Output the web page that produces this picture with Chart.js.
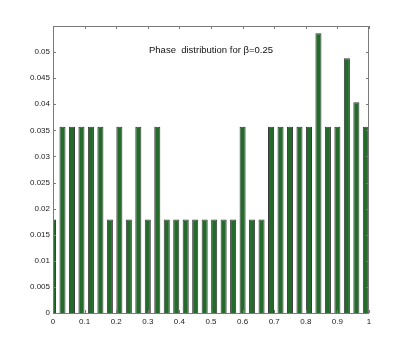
<!DOCTYPE html>
<html>
<head>
<meta charset="utf-8">
<script src="https://cdn.jsdelivr.net/npm/chart.js@4"></script>
<style>
body { margin: 0; background: #fff; }
#wrap { width: 407px; height: 353px; }
</style>
</head>
<body>
<div id="wrap"><canvas id="phase" width="407" height="353"></canvas></div>
<script>
// phase values (x) and probability per phase (y)
var phases = [0, 0.03, 0.06, 0.09, 0.12, 0.15, 0.18, 0.21, 0.24, 0.27, 0.30, 0.33,
	0.36, 0.39, 0.42, 0.45, 0.48, 0.51, 0.54, 0.57, 0.60, 0.63, 0.66, 0.69,
	0.72, 0.75, 0.78, 0.81, 0.84, 0.87, 0.90, 0.93, 0.96, 0.99]
var probs = [0.0179, 0.0357, 0.0357, 0.0357, 0.0357, 0.0357, 0.0179, 0.0357, 0.0179, 0.0357, 0.0179, 0.0357,
	0.0179, 0.0179, 0.0179, 0.0179, 0.0179, 0.0179, 0.0179, 0.0179, 0.0357, 0.0179, 0.0179, 0.0357,
	0.0357, 0.0357, 0.0357, 0.0357, 0.0536, 0.0357, 0.0357, 0.0488, 0.0404, 0.0357]
var xTicks = [0, 0.1, 0.2, 0.3, 0.4, 0.5, 0.6, 0.7, 0.8, 0.9, 1]
var yTicks = [0, 0.005, 0.01, 0.015, 0.02, 0.025, 0.03, 0.035, 0.04, 0.045, 0.05, 0.055]
var title = 'Phase  distribution for \u03b2=0.25'

var points = []
for (var i = 0; i < phases.length; i++)
	points.push({x: phases[i], y: probs[i]})

// matlab style box with inward ticks + title inside the axes
var boxPlugin = {
	id: 'box',
	afterDraw: function(chart)
	{
		var c = chart.ctx, a = chart.chartArea
		var sx = chart.scales.x, sy = chart.scales.y
		c.save()
		c.strokeStyle = '#7a7a7a'
		c.lineWidth = 1
		c.strokeRect(a.left + 0.5, a.top + 0.5, a.right - a.left - 1, a.bottom - a.top)
		c.beginPath()
		xTicks.forEach(function(v)
		{
			var px = Math.round(sx.getPixelForValue(v)) + 0.5
			c.moveTo(px, a.bottom); c.lineTo(px, a.bottom - 3)
			c.moveTo(px, a.top); c.lineTo(px, a.top + 3)
		})
		yTicks.forEach(function(v)
		{
			var py = Math.round(sy.getPixelForValue(v)) + 0.5
			c.moveTo(a.left, py); c.lineTo(a.left + 3, py)
			c.moveTo(a.right, py); c.lineTo(a.right - 3, py)
		})
		c.stroke()
		c.fillStyle = '#111'
		c.font = '9.5px "Liberation Sans", Arial, sans-serif'
		c.textAlign = 'center'
		c.textBaseline = 'middle'
		c.fillText(title, sx.getPixelForValue(0.5), sy.getPixelForValue(0.0504))
		c.restore()
	}
}

var tickFont = {family: '"Liberation Sans", Arial, sans-serif', size: 8}

new Chart(document.getElementById('phase'), {
	type: 'bar',
	data: {
		datasets: [{
			data: points,
			backgroundColor: '#246b2b',
			borderColor: '#3a3a3a',
			borderWidth: 1,
			barPercentage: 0.64,
			categoryPercentage: 1,
			clip: 0
		}]
	},
	options: {
		responsive: false,
		animation: false,
		layout: { padding: {left: 0, top: 26, right: 38, bottom: 0} },
		plugins: {
			legend: { display: false },
			tooltip: { enabled: false }
		},
		scales: {
			x: {
				type: 'linear',
				min: 0,
				max: 1,
				offset: false,
				grid: { display: false, drawTicks: false, offset: false },
				border: { display: false },
				afterBuildTicks: function(s) { s.ticks = xTicks.map(function(v) { return {value: v} }) },
				afterFit: function(s) { s.height = 40 },
				ticks: {
					font: tickFont,
					color: '#222',
					padding: 4,
					maxRotation: 0,
					callback: function(v) { return String(+v.toFixed(2)) }
				}
			},
			y: {
				min: 0,
				max: 0.055,
				grid: { display: false, drawTicks: false },
				border: { display: false },
				afterBuildTicks: function(s) { s.ticks = yTicks.map(function(v) { return {value: v} }) },
				afterFit: function(s) { s.width = 53 },
				ticks: {
					font: tickFont,
					color: '#222',
					padding: 3,
					callback: function(v) { return v > 0.0501 ? '' : String(+v.toFixed(3)) }
				}
			}
		}
	},
	plugins: [boxPlugin]
})
</script>
</body>
</html>
